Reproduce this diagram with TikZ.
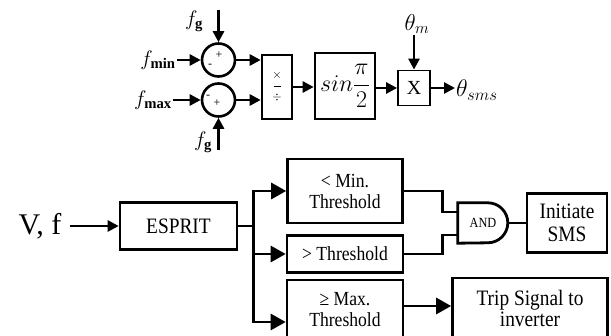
\documentclass[tikz,border=0pt]{standalone}
\usepackage{fix-cm}
\usepackage{fontspec}
\setmainfont{Liberation Serif}
\newfontfamily\narrowserif[FakeStretch=0.88]{Liberation Serif}
\usetikzlibrary{positioning,arrows.meta,calc}
\tikzset{
  bd block/.style={
    rectangle,
    draw,
    line width=2.6pt,
    align=center,
    inner sep=2pt,
    font=\narrowserif\fontsize{20}{21}\selectfont,
  },
  bd sum/.style={circle, draw, line width=2.6pt, minimum size=33pt, inner sep=0pt},
  bd sign/.style={inner sep=0pt, font=\fontsize{12}{12}\selectfont},
  bd label/.style={inner sep=1pt, font=\fontsize{21}{21}\selectfont},
  bd arrow/.style={-{Triangle[length=11pt,width=11pt]}, line width=2.6pt},
  bd big arrow/.style={-{Triangle[length=15pt,width=16pt]}, line width=2.8pt},
  bd line/.style={line width=2.8pt},
}

\begin{document}
\begin{tikzpicture}[x=1pt, y=-1pt]
  \useasboundingbox (0,0) rectangle (611,336);
  \clip (0,0) rectangle (611,336);

  % upper part: angle of the slip mode shift
  \node[bd sum] (sumT) at (218.5,60) {};
  \node[bd sum] (sumB) at (218.5,100) {};
  \node[bd sign] (sT1) at ($(sumT)+(0.5,-5)$) {+};
  \node[bd sign] (sT2) at ($(sumT)+(-8.5,6)$) {-};
  \node[bd sign] (sB1) at ($(sumB)+(-10.5,-3)$) {-};
  \node[bd sign] (sB2) at ($(sumB)+(-1.5,3)$) {+};

  \node[bd label] (fgT) at (194,21) {$f_{\mathbf{g}}$};
  \node[bd label] (fmin) at (158,60) {$f_{\mathbf{min}}$};
  \node[bd label] (fmax) at (153,100) {$f_{\mathbf{max}}$};
  \node[bd label] (fgB) at (203,142) {$f_{\mathbf{g}}$};
  \coordinate (fgTin) at (218.5,10);
  \coordinate (fgBin) at (218.5,150);

  \node[bd block, minimum width=30pt, minimum height=64pt,
        font=\fontsize{12}{11}\selectfont] (div) at (277,87)
        {$\times$\\\rule[3pt]{7pt}{1pt}\\$\div$};
  \node[bd block, minimum width=60pt, minimum height=66pt, inner sep=0pt,
        font=\fontsize{24}{26}\selectfont] (sine) at (345,86)
        {$sin\displaystyle\frac{\pi}{2}$};
  \node[bd block, line width=1.8pt, minimum width=32pt, minimum height=35pt,
        font=\fontsize{20}{20}\selectfont] (mul) at (414,88) {X};
  \node[bd label, font=\fontsize{23}{23}\selectfont] (thm) at (417,24) {$\theta_m$};
  \node[bd label, anchor=west, font=\fontsize{24}{24}\selectfont] (thsms) at (455,90) {$\theta_{sms}$};

  \draw[bd arrow] (fgTin) -- (sumT);
  \draw[bd arrow] (fmin) -- (sumT);
  \draw[bd arrow] (fmax) -- (sumB);
  \draw[bd arrow] (fgBin) -- (sumB);
  \draw[bd arrow] (sumT.east) -- (sumT.east -| div.west);
  \draw[bd arrow] (sumB.east) -- (sumB.east -| div.west);
  \draw[bd arrow] (div.east) -- (div.east -| sine.west);
  \draw[bd arrow] (mul.west -| sine.east) -- (mul.west);
  \draw[bd arrow] (mul.north |- thm.south) -- (mul.north);
  \draw[bd arrow] (mul.east) -- (mul.east -| thsms.west);

  % lower part: detection
  \node[inner xsep=8pt, font=\fontsize{30}{30}\selectfont] (vf) at (40,226) {V, f};
  \node[bd block, minimum width=117pt, minimum height=47pt,
        font=\narrowserif\fontsize{22}{22}\selectfont] (esprit) at (178.5,226) {ESPRIT};
  \coordinate[right=15pt of esprit.east] (fork);

  \node[bd block, minimum width=115pt, minimum height=64pt] (minth) at (345,191) {< Min.\\Threshold};
  \node[bd block, minimum width=116pt, minimum height=37pt] (gtth) at (345,254) {> Threshold};
  \node[bd block, minimum width=116pt, minimum height=60pt] (maxth) at (345,310) {≥ Max.\\Threshold};
  \coordinate (maxin) at ($(maxth.west)+(0,12)$);
  \coordinate (maxout) at ($(maxth.east)+(0,-4)$);

  \node[minimum width=50pt, minimum height=40pt, inner sep=0pt,
        font=\narrowserif\fontsize{14}{14}\selectfont] (andg) at (483,223) {AND\hspace{10pt}};
  \coordinate (in1) at ($(andg.west)+(0,-11)$);
  \coordinate (in2) at ($(andg.west)+(0,12)$);

  \node[bd block, minimum width=80pt, minimum height=59pt,
        font=\narrowserif\fontsize{22}{23}\selectfont] (init) at (567,223) {Initiate\\SMS};
  \node[bd block, minimum width=155pt, minimum height=60pt,
        font=\narrowserif\fontsize{22}{21}\selectfont] (trip) at (530,308) {Trip Signal to\\inverter};

  \draw[bd arrow] (vf) -- (esprit);
  \draw[bd line] (esprit.east) -- (fork);
  \draw[bd line, line cap=rect] (fork |- minth.west) -- (fork |- maxin);
  \draw[bd big arrow] (fork |- minth.west) -- (minth.west);
  \draw[bd big arrow] (fork |- gtth.west) -- (gtth.west);
  \draw[bd big arrow] (fork |- maxin) -- (maxin);

  \draw[bd line] (andg.north west) -- ++(30pt,0)
    arc[start angle=90, end angle=-90, radius=20pt] -- (andg.south west) -- cycle;
  \draw[bd line] (minth.east) -| ([xshift=-15pt]in1) -- (in1);
  \draw[bd line] (gtth.east) -| ([xshift=-15pt]in2) -- (in2);
  \draw[bd line] (andg.east) -- (init.west);
  \draw[bd big arrow] (maxout) -- (maxout -| trip.west);
\end{tikzpicture}
\end{document}
